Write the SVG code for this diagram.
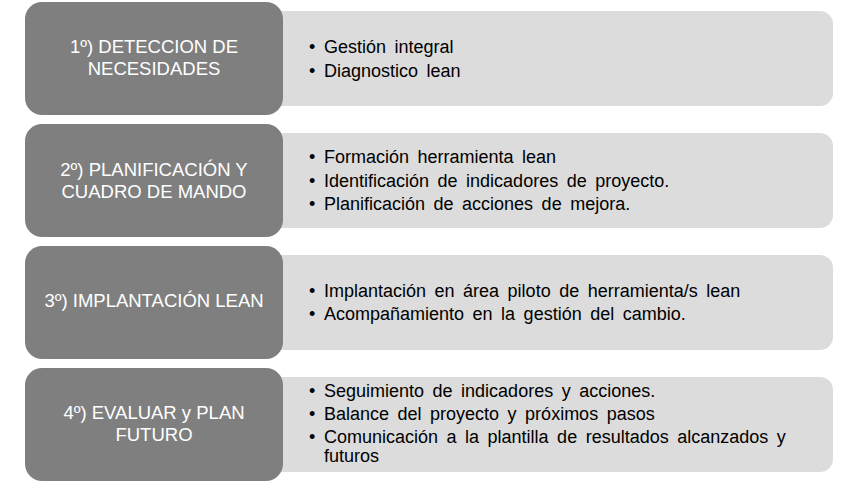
<svg xmlns="http://www.w3.org/2000/svg" width="857" height="484" viewBox="0 0 857 484">
<style>
.dark{fill:#7f7f7f}
.light{fill:#dcdcdc}
.lbl{font-family:"Liberation Sans",Arial,sans-serif;font-size:18.5px;fill:#ffffff;text-anchor:middle}
.itm{font-family:"Liberation Sans",Arial,sans-serif;font-size:18px;fill:#000000;word-spacing:3.5px}
</style>
<rect width="857" height="484" fill="#ffffff"/>
<g id="step1">
<path class="light" d="M270,11 H820 a13,13 0 0 1 13,13 V93 a13,13 0 0 1 -13,13 H270 Z"/>
<rect class="dark" x="25" y="2" width="258" height="113" rx="17"/>
<text class="lbl" x="154" y="53">1º) DETECCION DE</text>
<text class="lbl" x="154" y="75">NECESIDADES</text>
<text class="itm" x="309" y="53">•</text><text class="itm" x="324" y="53">Gestión integral</text>
<text class="itm" x="309" y="77">•</text><text class="itm" x="324" y="77">Diagnostico lean</text>
</g>
<g id="step2">
<path class="light" d="M270,133 H820 a13,13 0 0 1 13,13 V215 a13,13 0 0 1 -13,13 H270 Z"/>
<rect class="dark" x="25" y="124" width="258" height="113" rx="17"/>
<text class="lbl" x="154" y="176">2º) PLANIFICACIÓN Y</text>
<text class="lbl" x="154" y="198">CUADRO DE MANDO</text>
<text class="itm" x="309" y="163">•</text><text class="itm" x="324" y="163">Formación herramienta lean</text>
<text class="itm" x="309" y="187">•</text><text class="itm" x="324" y="187">Identificación de indicadores de proyecto.</text>
<text class="itm" x="309" y="210">•</text><text class="itm" x="324" y="210">Planificación de acciones de mejora.</text>
</g>
<g id="step3">
<path class="light" d="M270,255 H820 a13,13 0 0 1 13,13 V337 a13,13 0 0 1 -13,13 H270 Z"/>
<rect class="dark" x="25" y="246" width="258" height="113" rx="17"/>
<text class="lbl" x="154" y="307">3º) IMPLANTACIÓN LEAN</text>
<text class="itm" x="309" y="297">•</text><text class="itm" x="324" y="297">Implantación en área piloto de herramienta/s lean</text>
<text class="itm" x="309" y="320">•</text><text class="itm" x="324" y="320">Acompañamiento en la gestión del cambio.</text>
</g>
<g id="step4">
<path class="light" d="M270,377 H820 a13,13 0 0 1 13,13 V459 a13,13 0 0 1 -13,13 H270 Z"/>
<rect class="dark" x="25" y="368" width="258" height="113" rx="17"/>
<text class="lbl" x="154" y="419">4º) EVALUAR y PLAN</text>
<text class="lbl" x="154" y="441">FUTURO</text>
<text class="itm" x="309" y="397">•</text><text class="itm" x="324" y="397">Seguimiento de indicadores y acciones.</text>
<text class="itm" x="309" y="420">•</text><text class="itm" x="324" y="420">Balance del proyecto y próximos pasos</text>
<text class="itm" x="309" y="443">•</text><text class="itm" x="324" y="443">Comunicación a la plantilla de resultados alcanzados y</text>
<text class="itm" x="324" y="462">futuros</text>
</g>
<g id="connectors"/>
</svg>
